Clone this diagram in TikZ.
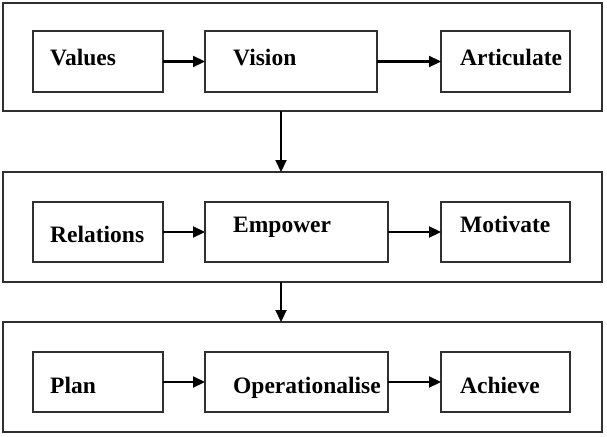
\documentclass[tikz,border=0pt]{standalone}
\usepackage{fontspec}
\setmainfont{Liberation Serif}
\usetikzlibrary{positioning, arrows.meta}
\definecolor{edge}{HTML}{303030}

\begin{document}
\begin{tikzpicture}[x=1pt, y=-1pt,
    stage/.style={draw=edge, line width=1.4pt, fill=white, anchor=north west,
                  inner sep=0pt, outer sep=0pt, minimum width=599pt},
    item/.style={draw=edge, line width=1.3pt, fill=white, anchor=north west,
                 inner sep=0pt, outer sep=0pt},
    word/.style={anchor=base west, inner sep=0pt,
                 font=\fontsize{23.5}{28}\selectfont\bfseries},
    flow/.style={-{Triangle[length=12pt, width=11pt]}, line width=2.2pt}]
  \useasboundingbox (0,0) rectangle (607,436);

  \node[stage, minimum height=108pt] (vstage) at (3,3) {};
  \node[stage, minimum height=110pt] (estage) at (3,172) {};
  \node[stage, minimum height=110pt] (pstage) at (3,322) {};

  \node[item, minimum width=130pt, minimum height=61pt] (values) at (33,31) {};
  \node[item, minimum width=172pt, minimum height=61pt] (vision) at (205,31) {};
  \node[item, minimum width=129pt, minimum height=61pt] (articulate) at (441,31) {};
  \node[word] (valuesT) at (50,65) {Values};
  \node[word] (visionT) at (233,65) {Vision};
  \node[word] (articulateT) at (460,65) {Articulate};

  \node[item, minimum width=130pt, minimum height=60pt] (relations) at (33,202) {};
  \node[item, minimum width=183pt, minimum height=60pt] (empower) at (205,202) {};
  \node[item, minimum width=129pt, minimum height=60pt] (motivate) at (441,202) {};
  \node[word] (relationsT) at (50,242) {Relations};
  \node[word] (empowerT) at (233,232) {Empower};
  \node[word] (motivateT) at (460,232) {Motivate};

  \node[item, minimum width=130pt, minimum height=60pt] (plan) at (33,352) {};
  \node[item, minimum width=183pt, minimum height=60pt] (operationalise) at (205,352) {};
  \node[item, minimum width=129pt, minimum height=60pt] (achieve) at (441,352) {};
  \node[word] (planT) at (50,393) {Plan};
  \node[word] (operationaliseT) at (233,393) {Operationalise};
  \node[word] (achieveT) at (460,393) {Achieve};

  \draw[flow] (values) -- (vision);
  \draw[flow] (vision) -- (articulate);
  \draw[flow] (relations) -- (empower);
  \draw[flow] (empower) -- (motivate);
  \draw[flow] (plan) -- (operationalise);
  \draw[flow] (operationalise) -- (achieve);

  \coordinate (link) at (281,0);
  \draw[flow] (vstage.south -| link) -- (estage.north -| link);
  \draw[flow] (estage.south -| link) -- (pstage.north -| link);
\end{tikzpicture}
\end{document}
